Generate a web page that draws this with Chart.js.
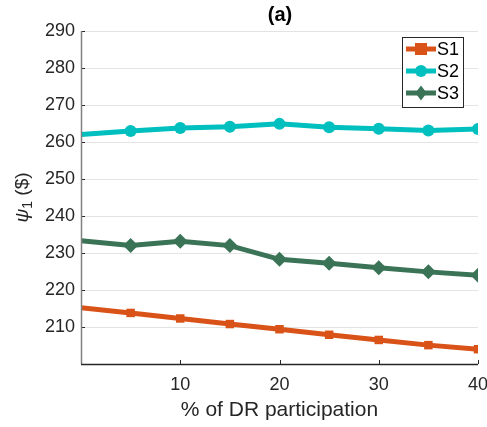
<!DOCTYPE html>
<html>
<head>
<meta charset="utf-8">
<script src="https://cdn.jsdelivr.net/npm/chart.js@4"></script>
<style>
  html, body { margin: 0; padding: 0; background: #fff; }
  #wrap { width: 487px; height: 427px; }
</style>
</head>
<body>
<div id="wrap"><canvas id="chart" width="487" height="427"></canvas></div>
<script>
// DR participation (%)
const participation = [0, 5, 10, 15, 20, 25, 30, 35, 40];
const s1 = [215.2, 213.8, 212.3, 210.8, 209.4, 207.9, 206.5, 205.1, 204.0];
const s2 = [262.0, 263.0, 263.8, 264.1, 264.9, 264.0, 263.6, 263.1, 263.5];
const s3 = [233.3, 232.0, 233.2, 232.0, 228.3, 227.2, 226.0, 224.9, 224.0];
const seriesNames = ["S1", "S2", "S3"];
const xTicks = [10, 20, 30, 40];
const yTicks = [210, 220, 230, 240, 250, 260, 270, 280, 290];

const FONT = "'Liberation Sans', Arial, Helvetica, sans-serif";
const TXT = "#262626";

const mk = (vals, name, color, style, r) => ({
  label: name,
  data: participation.map((x, i) => ({ x: x, y: vals[i] })),
  borderColor: color,
  backgroundColor: color,
  borderWidth: 5,
  pointStyle: style,
  // first point sits on the axis edge, its marker is clipped away in the original
  pointRadius: participation.map((x, i) => (i === 0 ? 0 : r)),
  pointHoverRadius: r,
  pointBorderWidth: 0,
  tension: 0,
});

const datasets = [
  mk(s1, seriesNames[0], "#D95319", "rect", 6),
  mk(s2, seriesNames[1], "#00BFBF", "circle", 6),
  mk(s3, seriesNames[2], "#3A7356", "rectRot", 7.5),
];

// title, y title, inward ticks and legend box, drawn on top
const extras = {
  id: "extras",
  afterDraw(chart) {
    const c = chart.ctx;
    const a = chart.chartArea;
    const xs = chart.scales.x, ys = chart.scales.y;
    c.save();
    // inward tick marks
    c.strokeStyle = "#262626";
    c.lineWidth = 1;
    xTicks.forEach((v) => {
      const px = Math.round(xs.getPixelForValue(v)) + 0.5;
      c.beginPath(); c.moveTo(px, a.bottom); c.lineTo(px, a.bottom - 4); c.stroke();
    });
    yTicks.forEach((v) => {
      const py = Math.round(ys.getPixelForValue(v)) + 0.5;
      c.beginPath(); c.moveTo(a.left, py); c.lineTo(a.left + 4, py); c.stroke();
    });
    // axes lines
    c.strokeStyle = "#808080";
    c.lineWidth = 1.5;
    c.beginPath(); c.moveTo(a.left + 0.5, a.top); c.lineTo(a.left + 0.5, a.bottom); c.stroke();
    c.strokeStyle = "#262626";
    c.beginPath(); c.moveTo(a.left, a.bottom + 0.5); c.lineTo(a.right, a.bottom + 0.5); c.stroke();

    // title
    c.fillStyle = "#000";
    c.font = "bold 20px " + FONT;
    c.textAlign = "center";
    c.textBaseline = "middle";
    c.fillText("(a)", 280, 15);

    // y title: psi_1 ($)
    c.save();
    c.translate(21, (a.top + a.bottom) / 2);
    c.rotate(-Math.PI / 2);
    c.fillStyle = TXT;
    c.textBaseline = "alphabetic";
    c.textAlign = "left";
    const p1 = "ψ", p2 = "1", p3 = " ($)";
    c.font = "italic 19px " + FONT; const w1 = c.measureText(p1).width;
    c.font = "14px " + FONT; const w2 = c.measureText(p2).width;
    c.font = "19px " + FONT; const w3 = c.measureText(p3).width;
    let x0 = -(w1 + w2 + w3) / 2;
    c.font = "italic 19px " + FONT; c.fillText(p1, x0, 7); x0 += w1;
    c.font = "14px " + FONT; c.fillText(p2, x0, 11); x0 += w2;
    c.font = "19px " + FONT; c.fillText(p3, x0, 7);
    c.restore();

    // legend
    const bx = 402, by = 37, bw = 61, bh = 70;
    c.fillStyle = "#fff";
    c.fillRect(bx, by, bw, bh);
    c.strokeStyle = "#262626";
    c.lineWidth = 1;
    c.strokeRect(bx + 0.5, by + 0.5, bw, bh);
    chart.data.datasets.forEach((ds, i) => {
      const yy = by + 12 + i * 22;
      c.strokeStyle = ds.borderColor;
      c.lineWidth = 5;
      c.beginPath(); c.moveTo(406, yy); c.lineTo(436, yy); c.stroke();
      c.fillStyle = ds.backgroundColor;
      const r = ds.pointHoverRadius;
      c.beginPath();
      if (ds.pointStyle === "rect") {
        c.rect(421 - r, yy - r, 2 * r, 2 * r);
      } else if (ds.pointStyle === "circle") {
        c.arc(421, yy, r, 0, Math.PI * 2);
      } else {
        c.moveTo(421, yy - r); c.lineTo(421 + r * 0.75, yy); c.lineTo(421, yy + r); c.lineTo(421 - r * 0.75, yy); c.closePath();
      }
      c.fill();
      c.fillStyle = "#000";
      c.font = "18px " + FONT;
      c.textAlign = "left";
      c.textBaseline = "middle";
      c.fillText(ds.label, 437, yy + 1);
    });
    c.restore();
  },
};

new Chart(document.getElementById("chart"), {
  type: "line",
  data: { datasets: datasets },
  options: {
    responsive: false,
    animation: false,
    layout: { padding: { top: 31, right: 9, left: 0, bottom: 0 } },
    plugins: { legend: { display: false }, tooltip: { enabled: false } },
    scales: {
      x: {
        type: "linear",
        min: 0,
        max: 40,
        afterBuildTicks: (s) => { s.ticks = xTicks.map((v) => ({ value: v })); },
        afterFit: (s) => { s.height = 63; s.paddingLeft = 0; s.paddingRight = 0; },
        grid: { display: false, drawTicks: false },
        border: { display: false },
        ticks: { color: TXT, font: { family: FONT, size: 18 }, padding: 10, maxRotation: 0 },
        title: {
          display: true,
          text: "% of DR participation",
          color: TXT,
          font: { family: FONT, size: 21 },
          padding: { top: 0 },
        },
      },
      y: {
        min: 200,
        max: 290,
        afterBuildTicks: (s) => { s.ticks = yTicks.map((v) => ({ value: v })); },
        afterFit: (s) => { s.width = 81; s.paddingTop = 0; s.paddingBottom = 0; },
        grid: { color: "#E3E3E3", lineWidth: 1, drawTicks: false },
        border: { display: false },
        ticks: { color: TXT, font: { family: FONT, size: 18 }, padding: 6 },
      },
    },
  },
  plugins: [extras],
});
</script>
</body>
</html>
